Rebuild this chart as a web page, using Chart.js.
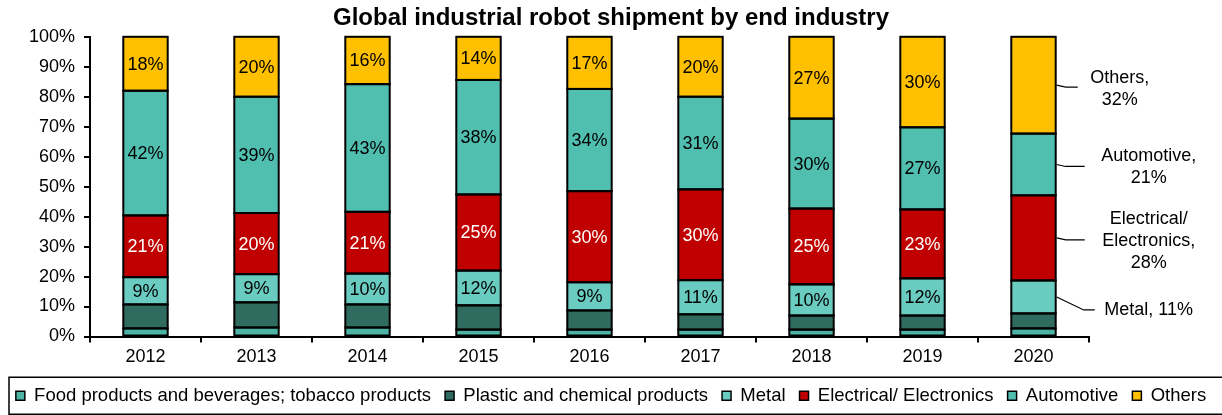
<!DOCTYPE html>
<html>
<head>
<meta charset="utf-8">
<script src="https://cdn.jsdelivr.net/npm/chart.js@4"></script>
<style>
  html, body { margin: 0; padding: 0; background: #fff; }
  #wrap { width: 1222px; height: 415px; position: relative; }
</style>
</head>
<body>
<div id="wrap"><canvas id="chart"></canvas></div>
<script>
const YEARS = ['2012', '2013', '2014', '2015', '2016', '2017', '2018', '2019', '2020'];

// shares in %
const FOOD       = [2.7, 3.0, 3.0, 2.3, 2.3, 2.3, 2.3, 2.3, 2.7];
const PLASTIC    = [8.0, 8.4, 7.7, 8.1, 6.4, 5.1, 4.7, 4.7, 5.0];
const METAL      = [9.1, 9.4, 10.3, 11.6, 9.4, 11.4, 10.4, 12.4, 11.0];
const ELECTRICAL = [20.6, 20.4, 20.6, 25.4, 30.4, 30.3, 25.3, 23.0, 28.4];
const AUTOMOTIVE = [41.6, 38.8, 42.6, 38.2, 34.1, 30.9, 30.0, 27.4, 20.6];
const OTHERS     = [18.0, 20.0, 15.8, 14.4, 17.4, 20.0, 27.3, 30.2, 32.3];

const Y_TICKS = [0, 10, 20, 30, 40, 50, 60, 70, 80, 90, 100];

// callouts for the last bar
const CALLOUTS = [
  { ds: 5, lines: ['Others,', '32%'] },
  { ds: 4, lines: ['Automotive,', '21%'] },
  { ds: 3, lines: ['Electrical/', 'Electronics,', '28%'] },
  { ds: 2, lines: ['Metal, 11%'] }
];

const FONT = '"Liberation Sans", Arial, sans-serif';

// outlines (centred on the segment edges) + labels inside the bars
const barLabels = {
  id: 'barLabels',
  afterDatasetsDraw(chart) {
    const ctx = chart.ctx;
    ctx.save();
    ctx.strokeStyle = '#000';
    ctx.lineWidth = 2;
    chart.data.datasets.forEach((ds, di) => {
      chart.getDatasetMeta(di).data.forEach(el => {
        ctx.strokeRect(el.x - el.width / 2, el.y, el.width, el.base - el.y);
      });
    });
    ctx.font = '18px ' + FONT;
    ctx.textAlign = 'center';
    ctx.textBaseline = 'middle';
    [2, 3, 4, 5].forEach(di => {
      const meta = chart.getDatasetMeta(di);
      const vals = chart.data.datasets[di].data;
      meta.data.forEach((el, i) => {
        if (i === YEARS.length - 1) return;
        ctx.fillStyle = di === 3 ? '#fff' : '#000';
        ctx.fillText(Math.round(vals[i]) + '%', el.x, (el.y + el.base) / 2 + 1);
      });
    });
    ctx.restore();
  }
};

// leader lines + text on the right of 2020
const callouts = {
  id: 'callouts',
  afterDatasetsDraw(chart) {
    const ctx = chart.ctx;
    const last = YEARS.length - 1;
    ctx.save();
    ctx.font = '18px ' + FONT;
    ctx.textAlign = 'center';
    ctx.textBaseline = 'middle';
    ctx.fillStyle = '#000';
    ctx.strokeStyle = '#000';
    ctx.lineWidth = 1.2;
    CALLOUTS.forEach(c => {
      const el = chart.getDatasetMeta(c.ds).data[last];
      const x0 = el.x + el.width / 2 + 1;
      const mid = (el.y + el.base) / 2;
      ctx.beginPath();
      if (c.ds === 2) {
        ctx.moveTo(x0, mid);
        ctx.lineTo(x0 + 27, mid + 13);
        ctx.lineTo(x0 + 38, mid + 13);
      } else {
        ctx.moveTo(x0, mid);
        ctx.lineTo(x0 + 9, mid + 2);
        ctx.lineTo(x0 + (c.ds === 5 ? 21 : 28), mid + 2);
      }
      ctx.stroke();
      const tx = x0 + (c.ds === 5 ? 63 : 92);
      let ty;
      if (c.ds === 2) ty = mid + 13;
      else ty = mid - (c.lines.length - 1) * 22 / 2 + (c.ds === 5 ? 4 : 3);
      c.lines.forEach((t, k) => ctx.fillText(t, tx, ty + k * 22));
    });
    ctx.restore();
  }
};

// frame round the legend
const legendFrame = {
  id: 'legendFrame',
  afterDraw(chart) {
    const hb = chart.legend.legendHitBoxes[0];
    const cy = hb.top + hb.height / 2;
    const ctx = chart.ctx;
    ctx.save();
    ctx.strokeStyle = '#000';
    ctx.lineWidth = 1.5;
    ctx.strokeRect(9, cy - 18.5, 1240, 37);
    ctx.restore();
  }
};

const mk = (label, data, bg) => ({
  label, data,
  backgroundColor: bg,
  borderColor: '#000',
  borderWidth: 0,
  categoryPercentage: 1,
  barPercentage: 0.4
});

new Chart(document.getElementById('chart'), {
  type: 'bar',
  data: {
    labels: YEARS,
    datasets: [
      mk('Food products and beverages; tobacco products', FOOD, '#4db3a4'),
      mk('Plastic and chemical products', PLASTIC, '#2f6b5f'),
      mk('Metal', METAL, '#6accc0'),
      mk('Electrical/ Electronics', ELECTRICAL, '#c00000'),
      mk('Automotive', AUTOMOTIVE, '#51bfb0'),
      mk('Others', OTHERS, '#ffc000')
    ]
  },
  options: {
    responsive: true,
    maintainAspectRatio: false,
    animation: false,
    layout: { padding: 0 },
    scales: {
      x: {
        stacked: true,
        afterFit(s) { s.height = 36; },
        border: { color: '#000', width: 2 },
        grid: { drawOnChartArea: false, color: '#000', tickLength: 6, lineWidth: 2 },
        ticks: { color: '#000', font: { family: FONT, size: 18 }, padding: 4 }
      },
      y: {
        stacked: true,
        min: 0, max: 100,
        afterFit(s) { s.width = 90; },
        afterBuildTicks(s) { s.ticks = Y_TICKS.map(v => ({ value: v })); },
        border: { color: '#000', width: 2 },
        grid: { drawOnChartArea: false, color: '#000', tickLength: 6, lineWidth: 2 },
        ticks: { color: '#000', font: { family: FONT, size: 18 }, padding: 9, callback: v => v + '%' }
      },
      // empty right-hand axis: keeps room for the callouts
      side: {
        type: 'linear',
        position: 'right',
        min: 0, max: 1,
        afterFit(s) { s.width = 133; },
        border: { display: false },
        grid: { display: false },
        ticks: { display: false }
      }
    },
    plugins: {
      title: {
        display: true,
        text: 'Global industrial robot shipment by end industry',
        color: '#000',
        font: { family: FONT, size: 24, weight: 'bold' },
        padding: { top: 4, bottom: 4 }
      },
      legend: {
        position: 'bottom',
        labels: {
          color: '#000',
          font: { family: FONT, size: 18.5 },
          boxWidth: 9, boxHeight: 9,
          padding: 14,
          generateLabels(chart) {
            const items = Chart.defaults.plugins.legend.labels.generateLabels(chart);
            items.forEach(it => { it.strokeStyle = '#000'; it.lineWidth = 1.5; });
            return items;
          }
        }
      },
      tooltip: { enabled: false }
    }
  },
  plugins: [barLabels, callouts, legendFrame]
});
</script>
</body>
</html>
